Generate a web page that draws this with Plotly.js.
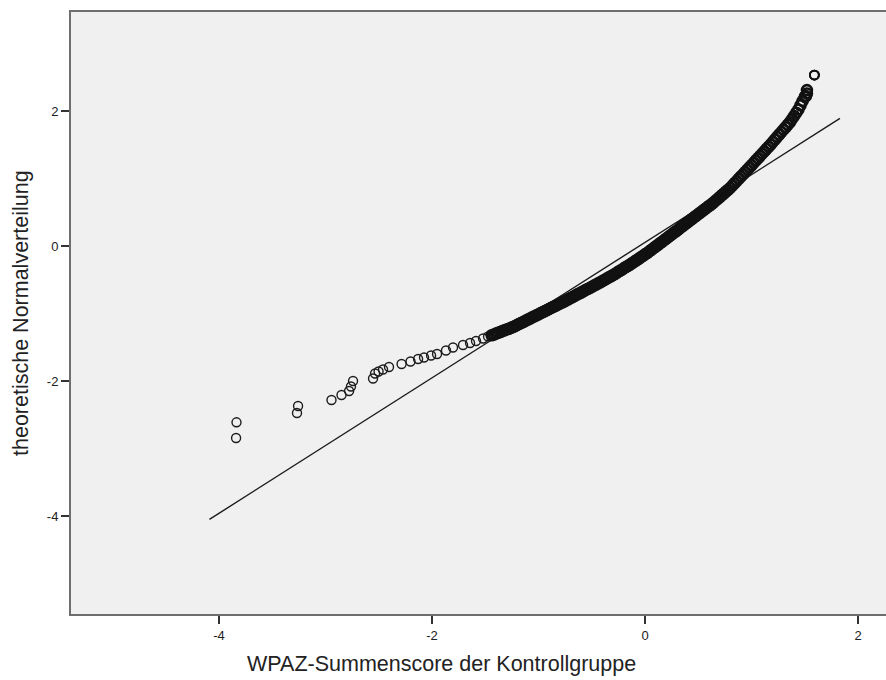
<!DOCTYPE html>
<html>
<head>
<meta charset="utf-8">
<script src="https://cdn.plot.ly/plotly-3.0.1.min.js"></script>
<style>
html, body { margin: 0; padding: 0; overflow: hidden; background: #ffffff; }
#chart { width: 890px; height: 680px; }
</style>
</head>
<body>
<div id="chart"></div>
<script>
const sparseX = [-3.836, -3.840, -3.258, -3.268, -2.944, -2.850, -2.779, -2.761, -2.742,
  -2.554, -2.535, -2.502, -2.460, -2.404, -2.286, -2.202, -2.131, -2.075, -2.009, -1.953,
  -1.869, -1.803, -1.709, -1.643, -1.587, -1.521, -1.474];
const sparseY = [-2.612, -2.844, -2.370, -2.474, -2.281, -2.207, -2.148, -2.081, -2.000,
  -1.963, -1.889, -1.859, -1.830, -1.793, -1.748, -1.711, -1.674, -1.652, -1.622, -1.600,
  -1.548, -1.504, -1.467, -1.437, -1.407, -1.370, -1.341];

const denseX = [-1.44, -1.42, -1.40, -1.38, -1.36, -1.34, -1.32, -1.30, -1.28, -1.26, -1.24,
  -1.22, -1.20, -1.18, -1.16, -1.14, -1.12, -1.10, -1.08, -1.06, -1.04, -1.02, -1.00,
  -0.98, -0.96, -0.94, -0.92, -0.90, -0.88, -0.86, -0.84, -0.82, -0.80, -0.78,
  -0.76, -0.74, -0.72, -0.70, -0.68, -0.66, -0.64, -0.62, -0.60, -0.58, -0.56, -0.54,
  -0.52, -0.50, -0.48, -0.46, -0.44, -0.42, -0.40, -0.38, -0.36, -0.34, -0.32, -0.30,
  -0.28, -0.26, -0.24, -0.22, -0.20, -0.18, -0.16, -0.14, -0.12, -0.10, -0.08, -0.06,
  -0.04, -0.02, 0.00, 0.02, 0.04, 0.06, 0.08, 0.10, 0.12, 0.14, 0.16, 0.18, 0.20, 0.22,
  0.24, 0.26, 0.28, 0.30, 0.32, 0.34, 0.36, 0.38, 0.40, 0.42, 0.44, 0.46, 0.48, 0.50,
  0.52, 0.54, 0.56, 0.58, 0.60, 0.62, 0.64, 0.66, 0.68, 0.70, 0.72, 0.74, 0.76, 0.78,
  0.80, 0.82, 0.84, 0.86, 0.88, 0.90, 0.92, 0.94, 0.96, 0.98, 1.00, 1.02, 1.04, 1.06,
  1.08, 1.10, 1.12, 1.14, 1.16, 1.18, 1.20, 1.22, 1.24, 1.26, 1.28, 1.30, 1.32, 1.34,
  1.36, 1.38, 1.40, 1.42, 1.44, 1.46, 1.48, 1.50, 1.51, 1.52, 1.52];
const denseY = [-1.323, -1.311, -1.298, -1.285, -1.273, -1.261, -1.249, -1.237, -1.225, -1.213, -1.201,
  -1.185, -1.169, -1.153, -1.138, -1.122, -1.106, -1.090, -1.074, -1.058, -1.042, -1.027, -1.011,
  -0.995, -0.979, -0.964, -0.948, -0.932, -0.917, -0.901, -0.885, -0.869, -0.854, -0.838,
  -0.822, -0.805, -0.788, -0.771, -0.755, -0.738, -0.721, -0.704, -0.688, -0.671, -0.654, -0.637,
  -0.621, -0.604, -0.587, -0.570, -0.553, -0.536, -0.518, -0.500, -0.483, -0.465, -0.448, -0.430,
  -0.410, -0.391, -0.371, -0.352, -0.332, -0.312, -0.293, -0.273, -0.252, -0.231, -0.210, -0.188,
  -0.167, -0.146, -0.124, -0.103, -0.079, -0.055, -0.032, -0.008, 0.016, 0.040, 0.064, 0.087, 0.111, 0.135,
  0.159, 0.183, 0.207, 0.230, 0.254, 0.280, 0.304, 0.328, 0.352, 0.376, 0.400, 0.424, 0.448, 0.472,
  0.496, 0.520, 0.544, 0.568, 0.592, 0.616, 0.640, 0.668, 0.695, 0.723, 0.751, 0.779, 0.807, 0.834,
  0.862, 0.895, 0.929, 0.962, 0.996, 1.029, 1.062, 1.096, 1.129, 1.163, 1.197, 1.231, 1.266, 1.300,
  1.334, 1.368, 1.402, 1.437, 1.471, 1.505, 1.543, 1.579, 1.615, 1.651, 1.688, 1.724, 1.760, 1.796,
  1.833, 1.880, 1.927, 1.975, 2.022, 2.085, 2.149, 2.212, 2.220, 2.260, 2.310];

// Top outlier (several coinciding cases)
const topX = [1.59, 1.59, 1.59];
const topY = [2.533, 2.533, 2.533];

// Reference (diagonal) line end points
const lineX = [-4.09, 1.83];
const lineY = [-4.05, 1.89];

const tickVals = [-4, -2, 0, 2];
const tickText = ["-4", "-2", "0", "2"];

const xTitle = "WPAZ-Summenscore der Kontrollgruppe";
const yTitle = "theoretische Normalverteilung";

const fontFam = "'Liberation Sans', Arial, sans-serif";

const data = [
  { type: "scatter", mode: "lines", x: lineX, y: lineY,
    line: { color: "#1a1a1a", width: 1.4 }, hoverinfo: "skip", showlegend: false },
  { type: "scatter", mode: "markers", x: sparseX, y: sparseY,
    marker: { symbol: "circle-open", size: 9, color: "#1c1c1c", line: { width: 1.4 } }, showlegend: false },
  { type: "scatter", mode: "markers", x: denseX, y: denseY,
    marker: { symbol: "circle-open", size: 10, color: "#111111", line: { width: 2.6 } }, showlegend: false },
  { type: "scatter", mode: "markers", x: topX, y: topY,
    marker: { symbol: "circle-open", size: 9, color: "#111111", line: { width: 1.8 } }, showlegend: false }
];

const layout = {
  width: 890, height: 680,
  margin: { l: 71, r: 0, t: 12, b: 66 },
  paper_bgcolor: "#ffffff",
  plot_bgcolor: "#f0f0f0",
  showlegend: false,
  font: { family: fontFam, color: "#222222", size: 13 },
  xaxis: {
    range: [-5.39, 2.30], tickvals: tickVals, ticktext: tickText,
    ticks: "outside", ticklen: 8, tickwidth: 1.5, tickcolor: "#333333",
    showgrid: false, zeroline: false,
    showline: true, linecolor: "#6e6e6e", linewidth: 2, mirror: true,
    tickfont: { family: fontFam, size: 13, color: "#222222" }
  },
  yaxis: {
    range: [-5.452, 3.467], tickvals: tickVals, ticktext: tickText,
    ticks: "outside", ticklen: 8, tickwidth: 1.5, tickcolor: "#333333",
    showgrid: false, zeroline: false,
    showline: true, linecolor: "#6e6e6e", linewidth: 2, mirror: true,
    tickfont: { family: fontFam, size: 13, color: "#222222" }
  },
  annotations: [
    { text: xTitle, xref: "paper", yref: "paper", x: (441 - 71) / 819, y: -50 / 602,
      xanchor: "center", yanchor: "middle", showarrow: false,
      font: { family: fontFam, size: 21.5, color: "#222222" } },
    { text: yTitle, xref: "paper", yref: "paper", x: -50 / 819, y: 0.5, textangle: -90,
      xanchor: "center", yanchor: "middle", showarrow: false,
      font: { family: fontFam, size: 21.5, color: "#222222" } }
  ]
};

Plotly.newPlot("chart", data, layout, { displayModeBar: false, staticPlot: true });
</script>
</body>
</html>
